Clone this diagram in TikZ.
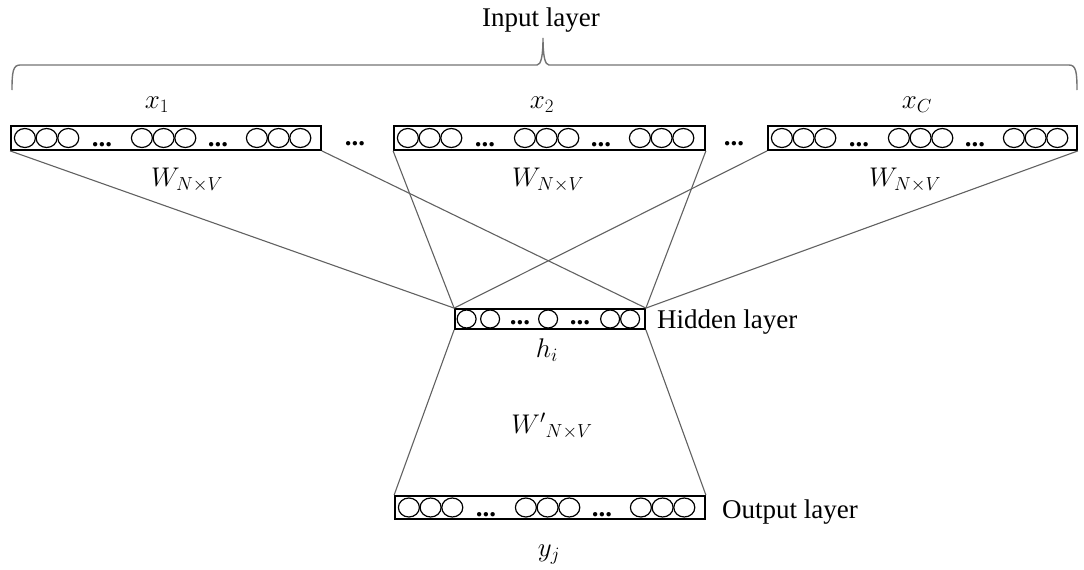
\RequirePackage{fix-cm}
\documentclass[tikz,border=0pt]{standalone}
\usepackage{fontspec}
\setmainfont{Liberation Serif}
\tikzset{
  layerbox/.style={draw=black, line width=1.8pt, inner sep=0pt, minimum height=24pt},
  cell/.style={draw=black, line width=1.2pt},
  conn/.style={draw=black!62, line width=1.1pt},
  lbl/.style={font=\fontsize{27}{32}\selectfont, inner sep=0pt, anchor=base},
  dotsty/.style={font=\fontsize{27}{32}\selectfont\bfseries, inner sep=0pt, anchor=base},
}
\newcommand{\wideCells}{%
  \foreach \o in {14.8,36.5,58.2,131.8,153.5,175.2,246.8,268.5,290.2}
    \draw[cell] (\o,0) ellipse [x radius=10.5pt, y radius=9.5pt];%
}
\begin{document}
\begin{tikzpicture}[x=1pt,y=-1pt]
\useasboundingbox (0,0) rectangle (1084,570);
% input layer boxes
\node[layerbox, minimum width=310pt] (in1) at (166,138) {};
\node[layerbox, minimum width=311pt] (in2) at (549.5,138) {};
\node[layerbox, minimum width=309pt] (in3) at (922.5,138) {};
\node[layerbox, minimum width=190pt, minimum height=20pt] (hid) at (550,319) {};
\node[layerbox, minimum width=310pt, minimum height=23pt] (out) at (550,507.5) {};
% cells
\begin{scope}[shift={(in1.west)}]
  \wideCells
  \node[dotsty] (d1a) at (92,8) {...};
  \node[dotsty] (d1b) at (208,8) {...};
\end{scope}
\begin{scope}[shift={(in2.west)}]
  \wideCells
  \node[dotsty] (d2a) at (92,8) {...};
  \node[dotsty] (d2b) at (208,8) {...};
\end{scope}
\begin{scope}[shift={(in3.west)}]
  \wideCells
  \node[dotsty] (d3a) at (92,8) {...};
  \node[dotsty] (d3b) at (208,8) {...};
\end{scope}
\begin{scope}[shift={(out.west)}]
  \wideCells
  \node[dotsty] (d4a) at (92,9) {...};
  \node[dotsty] (d4b) at (208,9) {...};
\end{scope}
\begin{scope}[shift={(hid.west)}]
  \foreach \o in {12.5,36,94,156,176}
    \draw[cell] (\o,0) ellipse [x radius=9.5pt, y radius=9pt];
  \node[dotsty] (d5a) at (66,5) {...};
  \node[dotsty] (d5b) at (126,5) {...};
\end{scope}
% dots between input boxes
\node[dotsty] (gap1) at (355,145) {...};
\node[dotsty] (gap2) at (734,145) {...};
% connectors
\draw[conn] (in1.south west) -- (hid.north west);
\draw[conn] (in1.south east) -- (hid.north east);
\draw[conn] (in2.south west) -- (hid.north west);
\draw[conn] (in2.south east) -- (hid.north east);
\draw[conn] (in3.south west) -- (hid.north west);
\draw[conn] (in3.south east) -- (hid.north east);
\draw[conn] (hid.south west) -- (out.north west);
\draw[conn] (hid.south east) -- (out.north east);
% brace
\draw[draw=black!55, line width=1.4pt]
  (12,90) .. controls (12,72) and (13,65) .. (20,65) -- (537,65)
  .. controls (541,65) and (543,56) .. (543,38)
  .. controls (543,56) and (545,65) .. (549,65) -- (1069,65)
  .. controls (1076,65) and (1077,72) .. (1077,90);
% labels
\node[lbl] (title) at (541,26) {Input layer};
\node[lbl] (x1) at (157,108) {$x_1$};
\node[lbl] (x2) at (542,108) {$x_2$};
\node[lbl] (xc) at (917,108) {$x_C$};
\node[lbl] (w1) at (187,186) {$W_{N\times V}$};
\node[lbl] (w2) at (548,186) {$W_{N\times V}$};
\node[lbl] (w3) at (905,186) {$W_{N\times V}$};
\node[lbl, anchor=base west] (hl) at (657,328) {Hidden layer};
\node[lbl] (hi) at (547,357) {$h_i$};
\node[lbl] (wp) at (552,433) {${W'}_{N\times V}$};
\node[lbl, anchor=base west] (ol) at (722,518) {Output layer};
\node[lbl] (yj) at (549,556) {$y_j$};
\end{tikzpicture}
\end{document}
